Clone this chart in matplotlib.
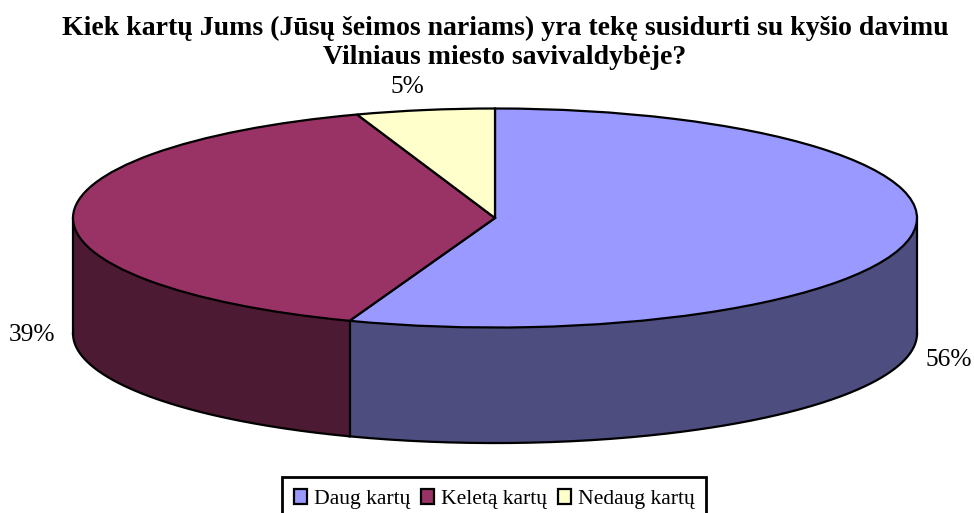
import matplotlib
matplotlib.use("Agg")
import matplotlib.pyplot as plt
import numpy as np

labels = ["Daug kartų", "Keletą kartų", "Nedaug kartų"]
values = [55.6, 39.1, 5.3]
pct_labels = ["56%", "39%", "5%"]
colors = ["#9999FF", "#993366", "#FFFFCC"]
side_colors = ["#4D4D80", "#4D1A33", "#808066"]

title = "Kiek kartų Jums (Jūsų šeimos nariams) yra tekę susidurti su kyšio davimu\nVilniaus miesto savivaldybėje?"

plt.rcParams['font.family'] = ['Liberation Serif', 'DejaVu Serif']

fig = plt.figure(figsize=(9.74, 5.13), dpi=100)

# axes set so the ellipse sits at the right pixels, aspect squashed
ax = fig.add_axes([73/974, (513-442.5)/513, 844/974, 334/513])

depth = 1.055
lw = 1.6

# side wall first, only the front half of the pie shows
fractions = np.array(values) / sum(values)
edges = np.concatenate([[0], np.cumsum(fractions)]) * 2 * np.pi
for i in range(len(values)):
    a0 = max(edges[i], np.pi / 2)
    a1 = min(edges[i + 1], 3 * np.pi / 2)
    if a1 <= a0:
        continue
    t = np.linspace(a0, a1, 200)
    x = np.sin(t)
    y = np.cos(t)
    ax.fill(np.concatenate([x, x[::-1]]), np.concatenate([y, y[::-1] - depth]),
            color=side_colors[i], lw=0, zorder=1, clip_on=False)
    ax.plot(x, y - depth, color="black", lw=lw, zorder=2, clip_on=False)

# vertical lines on the wall
for a in edges[1:-1]:
    if np.cos(a) < 0:
        ax.plot([np.sin(a)] * 2, [np.cos(a), np.cos(a) - depth], color="black", lw=lw, zorder=2)
ax.plot([-1, -1], [0, -depth], color="black", lw=lw, zorder=2, clip_on=False)
ax.plot([1, 1], [0, -depth], color="black", lw=lw, zorder=2, clip_on=False)

wedges, _ = ax.pie(values, colors=colors, startangle=90, counterclock=False, radius=1,
                   center=(0, 0), frame=True,
                   wedgeprops=dict(edgecolor="black", linewidth=lw, zorder=3, clip_on=False))
ax.set_aspect("auto")
ax.set_xlim(-1, 1)
ax.set_ylim(-2.05, 1.0)
ax.axis("off")

fig.text(505/974, 1-(43/513), title, ha="center", va="center", fontsize=20,
         fontweight="bold", linespacing=1.2)

fig.text(949/974, 1-(360/513), pct_labels[0], ha="center", va="center", fontsize=18.3)
fig.text(32/974, 1-(335/513), pct_labels[1], ha="center", va="center", fontsize=18.3)
fig.text(407/974, 1-(87/513), pct_labels[2], ha="center", va="center", fontsize=18.3)

leg = fig.legend(wedges, labels, loc="upper left", bbox_to_anchor=(282/974, 1-(477/513)), ncol=3,
                 fontsize=15.6, frameon=True, fancybox=False, edgecolor="black", framealpha=1,
                 handlelength=0.62, handleheight=0.7, handletextpad=0.3, columnspacing=0.5,
                 borderpad=0.55, borderaxespad=0)
leg.get_frame().set_linewidth(2)

plt.savefig("out.png", dpi=100)
